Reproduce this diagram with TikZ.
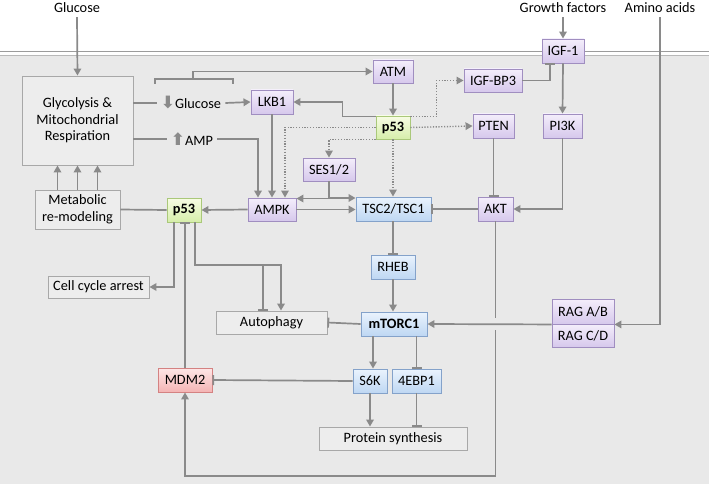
\documentclass[tikz,border=0pt]{standalone}
\usepackage{fontspec}
\setmainfont{Carlito}
\newfontfamily\symfont{DejaVu Sans}
\usetikzlibrary{arrows.meta}
\definecolor{linegray}{RGB}{138,138,138}
\definecolor{bggray}{RGB}{233,233,233}
\definecolor{plainfill}{RGB}{237,237,237}
\definecolor{plainline}{RGB}{168,168,168}
\definecolor{kintop}{RGB}{244,238,251}
\definecolor{kinbot}{RGB}{214,200,236}
\definecolor{kinline}{RGB}{160,142,192}
\definecolor{mtortop}{RGB}{234,243,253}
\definecolor{mtorbot}{RGB}{190,215,243}
\definecolor{mtorline}{RGB}{132,162,202}
\definecolor{ptop}{RGB}{247,252,228}
\definecolor{pbot}{RGB}{214,238,170}
\definecolor{pline}{RGB}{170,200,122}
\definecolor{mdmtop}{RGB}{253,230,230}
\definecolor{mdmbot}{RGB}{244,180,180}
\definecolor{mdmline}{RGB}{212,130,130}
\begin{document}
\begin{tikzpicture}[x=1pt,y=-1pt,
    every node/.append style={font=\fontsize{14.3}{16.5}\selectfont, inner sep=0pt, align=center},
    plain/.style={draw=plainline, fill=plainfill, line width=0.9pt},
    kin/.style={draw=kinline, top color=kintop, bottom color=kinbot, line width=0.9pt, minimum height=24},
    mtor/.style={draw=mtorline, top color=mtortop, bottom color=mtorbot, line width=0.9pt, minimum height=24},
    tp/.style={draw=pline, top color=ptop, bottom color=pbot, line width=0.9pt, minimum height=24, font=\fontsize{14.3}{16.5}\selectfont\bfseries},
    mdm/.style={draw=mdmline, top color=mdmtop, bottom color=mdmbot, line width=0.9pt, minimum height=24},
    lbl/.style={inner sep=4pt},
    line/.style={draw=linegray, line width=1.7pt},
    act/.style={line, -{Triangle[length=7pt,width=7.5pt]}},
    inh/.style={line, -{Bar[width=10pt]}},
    dotact/.style={draw=linegray, line width=1.4pt, dash pattern=on 1.2pt off 1.6pt, -{Triangle[length=7pt,width=7.5pt]}}]
  \useasboundingbox (0,0) rectangle (709,484);
  \fill[bggray] (0,55) rectangle (709,484);
  \draw[linegray!85, line width=1.5pt] (0,51.5) -- (709,51.5);
  \draw[linegray!60, line width=0.8pt] (0,55) -- (709,55);

  \node[lbl] (gluc) at (77,8) {Glucose};
  \node[lbl] (growth) at (563,8) {Growth factors};
  \node[lbl] (amino) at (660,8) {Amino acids};

  \node[plain, minimum width=111, minimum height=89] (glyco) at (77.5,120.5) {Glycolysis \&\\Mitochondrial\\Respiration};
  \node[plain, minimum width=85, minimum height=39] (meta) at (77.5,209.5) {Metabolic\\re-modeling};
  \node[plain, minimum width=101, minimum height=22] (cellcyc) at (98.5,287) {Cell cycle arrest};
  \node[plain, minimum width=111, minimum height=23] (autoph) at (271.5,322.5) {Autophagy};
  \node[plain, minimum width=148, minimum height=23] (protsyn) at (393,438.5) {Protein synthesis};

  \node[lbl] (glu) at (191,103) {{\color{linegray}\symfont\fontsize{17}{17}\selectfont\bfseries ⬇}Glucose};
  \node[lbl] (amp) at (192,139) {{\color{linegray}\symfont\fontsize{17}{17}\selectfont\bfseries ⬆}AMP};

  \node[kin, minimum width=40, minimum height=23] (atm) at (393,71.5) {ATM};
  \node[kin, minimum width=42] (lkb1) at (272,102) {LKB1};
  \node[kin, minimum width=58, minimum height=23] (igfbp3) at (493,80.5) {IGF-BP3};
  \node[kin, minimum width=42] (igf1) at (563,51) {IGF-1};
  \node[kin, minimum width=41] (pten) at (493.5,126) {PTEN};
  \node[kin, minimum width=39] (pik) at (562.5,126) {PI3K};
  \node[kin, minimum width=52, minimum height=23] (ses) at (329,169.5) {SES1/2};
  \node[kin, minimum width=48, minimum height=23] (ampk) at (272,209.5) {AMPK};
  \node[kin, minimum width=35] (akt) at (495.5,209) {AKT};
  \node[kin, minimum width=62, minimum height=25] (raga) at (583,311.5) {RAG A/B};
  \node[kin, minimum width=62, minimum height=23] (ragc) at (583,335.5) {RAG C/D};

  \node[tp, minimum width=34, minimum height=23] (p53a) at (393,127.5) {p53};
  \node[tp, minimum width=34] (p53b) at (184,210) {p53};

  \node[mtor, minimum width=75] (tsc) at (393.5,209) {TSC2/TSC1};
  \node[mtor, minimum width=44] (rheb) at (393,267) {RHEB};
  \node[mtor, minimum width=66, font=\fontsize{14.3}{16.5}\selectfont\bfseries] (mtorc) at (394,324) {mTORC1};
  \node[mtor, minimum width=34] (s6k) at (370,381) {S6K};
  \node[mtor, minimum width=49] (ebp) at (416.5,381) {4EBP1};

  \node[mdm, minimum width=54] (mdm2) at (185,380) {MDM2};

  \coordinate (brl) at (155,84);
  \coordinate (brm) at (193,79);
  \coordinate (brr) at (233,84);
  \coordinate (split) at (0,265);
  \coordinate (floor) at (0,476);

  \draw[act] (gluc.south) -- (glyco.north);
  \foreach \dx in {-20,0,20}
    \draw[act] ([xshift=\dx pt]meta.north) -- ([xshift=\dx pt]glyco.south);
  \draw[line] (glyco.east |- glu) -- (glu.west);
  \draw[act] (glu.east) -- (lkb1.west);
  \draw[line] (glyco.east |- amp) -- (amp.west);
  \draw[act] (amp.east) -| ([xshift=-14pt]ampk.north);
  \draw[line] (brl) -- (brl |- brm) -- (brr |- brm) -- (brr);
  \draw[act] (brm) |- (atm.west);
  \draw[act] (atm.south) -- (p53a.north);
  \draw[act] ([yshift=-1pt]p53a.north west) -- ++(-33,0) |- (lkb1.east);
  \draw[act] (lkb1.south) -- (ampk.north);
  \draw[dotact] (p53a.west) -| ([xshift=13pt]ampk.north);
  \draw[dotact] (p53a.south west) -| (ses.north);
  \draw[dotact] (p53a.south) -- (p53a.south |- tsc.north);
  \draw[dotact] (p53a.east) -- (pten.west);
  \draw[dotact] ([yshift=-1pt]p53a.north east) -- ++(26,0) |- (igfbp3.west);
  \draw[act] (growth.south) -- (igf1.north);
  \draw[inh] (igfbp3.east) -| ([xshift=-13pt]igf1.south);
  \draw[act] (igf1.south) -- (pik.north);
  \draw[act] (pik.south) |- (akt.east);
  \draw[inh] (pten.south) -- (pten.south |- akt.north);
  \draw[inh] (akt.west) -- (tsc.east);
  \draw[act] (ses.south) |- ([yshift=11pt]ampk.east);
  \draw[act] (ses.south) |- ([yshift=11pt]tsc.west);
  \draw[act] (ampk.east) -- (ampk.east -| tsc.west);
  \draw[act] (ampk.west) -- (p53b.east);
  \draw[line] (meta.east) -- (p53b.west);
  \draw[inh] (tsc.south -| rheb.north) -- (rheb.north);
  \draw[act] (rheb.south) -- (rheb.south |- mtorc.north);
  \draw[act] (amino.south) |- (raga.south east);
  \draw[act] (raga.south west) -- (mtorc.east);
  \draw[inh] (mtorc.west) -- (autoph.east);
  \draw[act] ([xshift=-21pt]mtorc.south) -- ([xshift=-21pt]mtorc.south |- s6k.north);
  \draw[inh] (mtorc.south -| ebp.north) -- (ebp.north);
  \draw[act] (s6k.south) -- (s6k.south |- protsyn.north);
  \draw[inh] (ebp.south) -- (ebp.south |- protsyn.north);
  \draw[inh] (s6k.west) -- (mdm2.east);
  \draw[line] (akt.south) -- ([yshift=6pt]akt.south |- mtorc.east);
  \draw[act] ([yshift=-6pt]akt.south |- mtorc.east) -- (akt.south |- floor) -| (mdm2.south);
  \draw[inh] (mdm2.north) -- (mdm2.north |- p53b.south);
  \draw[act] ([xshift=-10pt]p53b.south) |- (cellcyc.east);
  \draw[act] ([xshift=11pt]p53b.south) |- ([xshift=9.5pt]autoph.north |- split) -- ([xshift=9.5pt]autoph.north);
  \draw[inh] ([xshift=-8.5pt]autoph.north |- split) -- ([xshift=-8.5pt]autoph.north);
\end{tikzpicture}
\end{document}
